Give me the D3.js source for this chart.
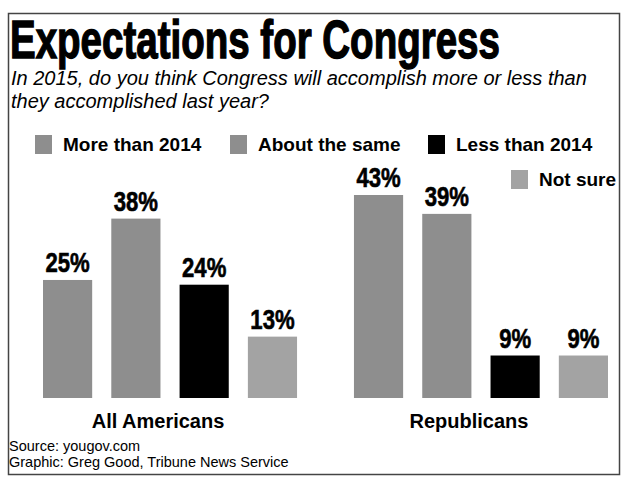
<!DOCTYPE html>
<html>
<head>
  <meta charset="utf-8">
  <title>Expectations for Congress</title>
  <script src="https://d3js.org/d3.v7.min.js"></script>
  <style>
    body { margin: 0; background: #fff; }
    svg text { font-family: "Liberation Sans", Arial, sans-serif; fill: #000; }
  </style>
</head>
<body>
  <div id="chart"></div>
  <script>
    // data
    var groups = ["All Americans", "Republicans"];
    var answers = ["More than 2014", "About the same", "Less than 2014", "Not sure"];
    var allAmericans = [25, 38, 24, 13];
    var republicans = [43, 39, 9, 9];
    var colors = ["#8e8e8e", "#8e8e8e", "#000000", "#a3a3a3"];

    var rows = [allAmericans, republicans];

    var W = 626, H = 479;
    var svg = d3.select("#chart").append("svg")
      .attr("width", W)
      .attr("height", H);

    // frame
    svg.append("rect")
      .attr("x", 8.5).attr("y", 13.5)
      .attr("width", 611).attr("height", 461)
      .attr("fill", "none")
      .attr("stroke", "#444")
      .attr("stroke-width", 1.5);

    // title - squeezed horizontally to look like the condensed original
    var title = svg.append("text")
      .attr("font-size", 53)
      .attr("font-weight", "bold")
      .attr("stroke", "#000")
      .attr("stroke-width", 1.4)
      .text("Expectations for Congress");
    var tw = title.node().getComputedTextLength();
    title.attr("transform", "translate(10,58) scale(" + (490 / tw) + ",1)");

    var sub = ["In 2015, do you think Congress will accomplish more or less than",
               "they accomplished last year?"];
    svg.selectAll(".sub").data(sub).enter().append("text")
      .attr("class", "sub")
      .attr("x", 11)
      .attr("y", function (d, i) { return 85 + i * 23; })
      .attr("font-size", 20)
      .attr("font-style", "italic")
      .text(function (d) { return d; });

    // legend
    var legendPos = [[35, 135], [230, 135], [428, 135], [511, 170]];
    var leg = svg.selectAll(".leg").data(answers).enter().append("g")
      .attr("class", "leg")
      .attr("transform", function (d, i) { return "translate(" + legendPos[i][0] + "," + legendPos[i][1] + ")"; });
    leg.append("rect")
      .attr("width", 17).attr("height", 19)
      .attr("fill", function (d, i) { return colors[i]; });
    leg.append("text")
      .attr("x", 28).attr("y", 16)
      .attr("font-size", 19)
      .attr("font-weight", "bold")
      .text(function (d) { return d; });

    // scales
    var x0 = d3.scaleBand().domain(groups).range([43, 608]).paddingInner(0.183);
    var x1 = d3.scaleBand().domain(answers).range([0, x0.bandwidth()]).paddingInner(0.28);
    var y = d3.scaleLinear().domain([0, 43]).range([398, 195]);

    var g = svg.selectAll(".grp").data(groups).enter().append("g")
      .attr("class", "grp")
      .attr("transform", function (d) { return "translate(" + x0(d) + ",0)"; });

    var bars = g.selectAll(".bar")
      .data(function (d, gi) { return answers.map(function (a, i) { return { a: a, v: rows[gi][i], i: i }; }); })
      .enter();

    bars.append("rect")
      .attr("class", "bar")
      .attr("x", function (d) { return x1(d.a); })
      .attr("y", function (d) { return y(d.v); })
      .attr("width", x1.bandwidth())
      .attr("height", function (d) { return y(0) - y(d.v); })
      .attr("fill", function (d) { return colors[d.i]; });

    bars.append("text")
      .attr("class", "val")
      .attr("font-size", 27)
      .attr("font-weight", "bold")
      .attr("stroke", "#000")
      .attr("stroke-width", 0.6)
      .attr("text-anchor", "middle")
      .text(function (d) { return d.v + "%"; })
      .attr("transform", function (d) {
        return "translate(" + (x1(d.a) + x1.bandwidth() / 2) + "," + (y(d.v) - 8) + ") scale(0.82,1)";
      });

    // group labels sit a little left of the group centre in the original
    g.append("text")
      .attr("x", x0.bandwidth() / 2 - 12)
      .attr("y", 428)
      .attr("text-anchor", "middle")
      .attr("font-size", 20)
      .attr("font-weight", "bold")
      .text(function (d) { return d; });

    // source
    var src = ["Source: yougov.com", "Graphic: Greg Good, Tribune News Service"];
    svg.selectAll(".src").data(src).enter().append("text")
      .attr("x", 9)
      .attr("y", function (d, i) { return 451 + i * 15.5; })
      .attr("font-size", 14.5)
      .attr("fill", "#222")
      .text(function (d) { return d; });
  </script>
</body>
</html>
